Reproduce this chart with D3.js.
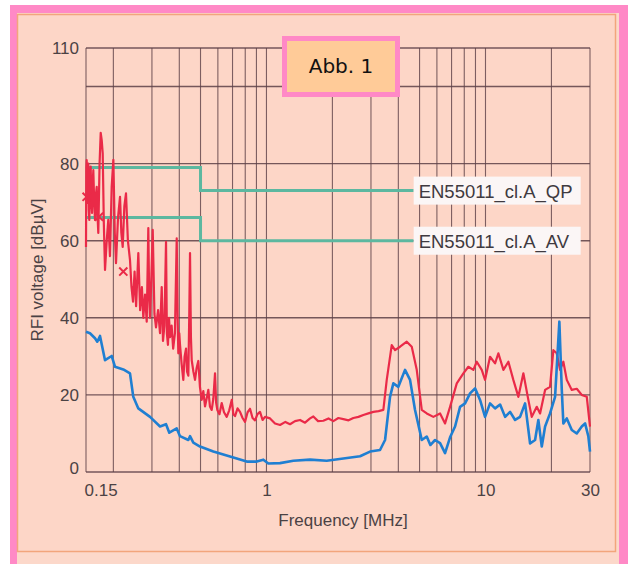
<!DOCTYPE html>
<html>
<head>
<meta charset="utf-8">
<script src="https://cdn.jsdelivr.net/npm/d3@7"></script>
<style>
  body { margin: 0; background: #fff; }
  svg { display: block; font-family: "Liberation Sans", Arial, sans-serif; }
</style>
</head>
<body>
<svg width="628" height="564"></svg>
<script>
// measured QP curve (red), frequency in MHz, level in dBuV
var qpFreq = [0.150, 0.1505, 0.1511, 0.1519, 0.1527, 0.1532, 0.1537, 0.1545, 0.1553, 0.1565,
  0.1576, 0.1587, 0.1598, 0.1610, 0.1620, 0.1635, 0.1649, 0.1665, 0.1679, 0.1695,
  0.1707, 0.1730, 0.1751, 0.1770, 0.1788, 0.1810, 0.1832, 0.1865, 0.1896, 0.1930,
  0.1965, 0.200, 0.2030, 0.2056, 0.2100, 0.2145, 0.2175, 0.2206, 0.2245, 0.2284,
  0.2330, 0.2382, 0.2420, 0.2459, 0.2500, 0.2540, 0.2600, 0.2650, 0.2700, 0.2740,
  0.2790, 0.2840, 0.2888, 0.2915, 0.2940, 0.2980, 0.3025, 0.3080, 0.3131, 0.3200,
  0.3266, 0.3325, 0.3370, 0.3420, 0.3479, 0.3510, 0.3550, 0.3590, 0.3628, 0.3690,
  0.3750, 0.3820, 0.3893, 0.3930, 0.3959, 0.4000, 0.4030, 0.4100, 0.4172, 0.4230,
  0.4293, 0.4340, 0.4398, 0.4440, 0.4477, 0.4520, 0.4558, 0.4640, 0.4719, 0.4800,
  0.4885, 0.4970, 0.5063, 0.5150, 0.5242, 0.5330, 0.5427, 0.5520, 0.5624, 0.5720,
  0.5823, 0.5890, 0.5966, 0.6100, 0.6248, 0.6400, 0.6585, 0.6760, 0.6941, 0.7060,
  0.7186, 0.7380, 0.7574, 0.7780, 0.7982, 0.8200, 0.8413, 0.8640, 0.8868, 0.9100,
  0.9346, 0.9600, 0.9851, 1.0383, 1.0942, 1.1533, 1.2200, 1.2812, 1.3500, 1.4232,
  1.500, 1.581, 1.637, 1.720, 1.818, 1.920, 2.020, 2.130, 2.244, 2.370,
  2.493, 2.630, 2.769, 2.920, 3.076, 3.250, 3.417, 3.541, 3.732, 3.864,
  4.073, 4.370, 4.606, 4.854, 5.117, 5.393, 5.780, 6.203, 6.537, 6.890,
  7.393, 7.925, 8.352, 8.802, 9.123, 9.615, 9.955, 10.49, 11.06, 11.45,
  12.07, 12.72, 13.40, 14.13, 14.89, 15.69, 16.26, 17.14, 17.75, 18.71,
  19.71, 20.41, 21.15, 21.90, 22.67, 23.50, 24.77, 26.10, 27.51, 29.00, 30];
var qpLevel = [58.4, 79.0, 80.9, 70.0, 69.8, 78.0, 80.0, 68.0, 65.4, 76.0,
  79.2, 70.0, 67.2, 75.0, 78.3, 70.0, 65.4, 72.0, 74.0, 66.0,
  62.0, 80.0, 88.0, 86.0, 82.7, 64.0, 52.4, 60.0, 65.4, 56.0,
  74.0, 81.0, 62.0, 54.2, 66.0, 71.4, 62.0, 58.4, 69.0, 72.3,
  60.0, 55.0, 48.0, 44.2, 52.0, 43.0, 56.8, 42.0, 48.0, 40.0,
  46.0, 39.0, 63.3, 45.0, 40.0, 50.0, 62.8, 41.0, 37.5, 42.0,
  36.0, 48.0, 34.0, 38.0, 59.7, 36.0, 33.0, 40.0, 35.0, 38.0,
  32.0, 36.0, 60.6, 40.0, 30.8, 36.0, 33.0, 28.0, 23.9, 30.0,
  32.0, 26.0, 25.0, 40.0, 56.8, 35.0, 29.0, 26.0, 23.9, 27.0,
  28.8, 22.0, 18.7, 21.0, 17.0, 19.0, 21.3, 17.0, 16.1, 19.0,
  25.6, 18.0, 16.1, 15.0, 17.9, 15.5, 14.3, 16.0, 18.7, 15.0,
  14.5, 16.5, 15.6, 14.0, 13.0, 15.5, 16.4, 14.0, 13.4, 15.0,
  15.6, 13.5, 14.3, 13.9, 12.6, 12.2, 13.0, 12.4, 13.2, 13.5,
  12.8, 13.9, 14.4, 13.2, 13.3, 13.9, 13.2, 14.0, 13.7, 13.4,
  14.0, 14.3, 14.8, 15.2, 15.6, 15.8, 16.1, 23.9, 32.9, 31.6,
  32.5, 33.8, 32.5, 26.5, 16.1, 15.2, 14.3, 15.2, 12.6, 16.9,
  23.0, 25.6, 27.3, 26.5, 28.6, 26.5, 23.9, 29.9, 28.2, 30.8,
  26.5, 28.6, 23.9, 19.5, 25.6, 18.7, 14.3, 16.9, 15.2, 21.3,
  22.1, 31.6, 30.8, 26.5, 28.6, 23.9, 21.3, 21.6, 20.0, 19.5, 11.8];

// measured AV curve (blue)
var avFreq = [0.150, 0.1564, 0.1649, 0.1689, 0.1738, 0.1832, 0.1965, 0.2035, 0.2220, 0.2382,
  0.2466, 0.2600, 0.2940, 0.3266, 0.3479, 0.3601, 0.3893, 0.4030, 0.4398, 0.4477,
  0.4635, 0.4973, 0.5720, 0.6818, 0.8126, 0.9026, 0.9675, 1.0199, 1.1533, 1.3264,
  1.581, 1.884, 2.244, 2.675, 2.971, 3.300, 3.479, 3.666, 3.796, 4.001,
  4.292, 4.524, 4.768, 5.117, 5.393, 5.600, 5.885, 6.203, 6.537, 6.890,
  7.262, 7.654, 8.067, 8.503, 8.961, 9.444, 9.955, 10.49, 11.06, 11.66,
  12.29, 12.95, 13.65, 14.38, 15.16, 15.98, 16.84, 17.43, 18.07, 18.71,
  19.71, 20.78, 21.74, 22.30, 22.67, 23.50, 24.77, 26.10, 27.51, 28.49, 29.49, 30];
var avLevel = [36.4, 36.0, 34.7, 33.8, 35.3, 29.0, 30.1, 27.3, 26.6, 25.6,
  19.5, 16.5, 14.3, 11.8, 12.4, 10.2, 11.3, 9.3, 8.3, 9.3,
  7.6, 6.6, 5.3, 4.0, 2.7, 2.7, 3.2, 2.2, 2.3, 2.9,
  3.2, 2.9, 3.5, 4.1, 5.3, 5.7, 8.3, 19.5, 23.0, 22.1,
  26.5, 23.9, 16.1, 8.3, 9.2, 7.0, 8.3, 7.5, 4.9, 9.0,
  11.8, 16.9, 17.8, 20.4, 21.7, 18.7, 14.3, 17.8, 16.5, 17.5,
  14.3, 15.6, 13.5, 14.3, 17.8, 7.4, 8.3, 13.5, 6.6, 11.8,
  15.2, 19.5, 39.0, 21.3, 12.6, 13.9, 10.9, 10.0, 11.8, 12.6, 9.2, 5.3];

// peak markers on the QP curve
var markFreq = [0.151, 0.172, 0.222];
var markLevel = [71.4, 66.2, 52.0];

// EN55011 class A limits
var limitFreq = [0.15, 0.5, 0.5, 4.7];
var limitQP = [79, 79, 73, 73];
var limitAV = [66, 66, 60, 60];
var limitNames = ["EN55011_cl.A_QP", "EN55011_cl.A_AV"];

var gridFreq = [0.15, 0.2, 0.3, 0.4, 0.5, 0.6, 0.7, 0.8, 0.9, 1, 2, 3, 4, 5, 6, 7, 8, 9, 10, 20, 30];
var gridLevel = [0, 20, 40, 60, 80, 100, 110];
var xTicks = [0.15, 1, 10, 30];
var yTicks = [0, 20, 40, 60, 80, 110];

var svg = d3.select("svg");

// frame
svg.append("rect").attr("x", 10).attr("y", 5).attr("width", 630).attr("height", 600).attr("fill", "#ff89c6");
svg.append("rect").attr("x", 17).attr("y", 13).attr("width", 602).attr("height", 560).attr("fill", "#fcd8ca");
svg.append("rect").attr("x", 17.5).attr("y", 14.5).attr("width", 598).attr("height", 537)
  .attr("fill", "#fdd6c7").attr("stroke", "#f2a57c").attr("stroke-width", 1.5);

var x = d3.scaleLog().domain([0.15, 30]).range([86, 590]);
var y = d3.scaleLinear().domain([0, 110]).range([472, 48]);

var gridColor = "#5e4148";

// grid
svg.append("g").selectAll("line").data(gridFreq).enter().append("line")
  .attr("x1", function (d) { return x(d); }).attr("x2", function (d) { return x(d); })
  .attr("y1", y(0)).attr("y2", y(110))
  .attr("stroke", gridColor).attr("stroke-width", 1.1).attr("opacity", 0.8);
svg.append("g").selectAll("line").data(gridLevel).enter().append("line")
  .attr("x1", x(0.15)).attr("x2", x(30))
  .attr("y1", function (d) { return y(d); }).attr("y2", function (d) { return y(d); })
  .attr("stroke", gridColor).attr("stroke-width", 1.4).attr("opacity", 0.85);

// tick labels
var xAxis = svg.append("g")
  .attr("transform", "translate(0," + y(0) + ")")
  .call(d3.axisBottom(x).tickValues(xTicks).tickSize(0).tickPadding(12)
    .tickFormat(function (d) { return String(d); }));
var yAxis = svg.append("g")
  .attr("transform", "translate(" + x(0.15) + ",0)")
  .call(d3.axisLeft(y).tickValues(yTicks).tickSize(0).tickPadding(7));
[xAxis, yAxis].forEach(function (a) {
  a.select(".domain").remove();
  a.selectAll("text").attr("fill", "#4b4244").style("font-size", "17px")
    .style("font-family", "'Liberation Sans', Arial, sans-serif");
});
xAxis.selectAll("text").filter(function (d) { return d === 0.15; })
  .attr("text-anchor", "start").attr("dx", -2);
yAxis.selectAll("text").filter(function (d) { return d === 0; }).attr("dy", "0.1em");

// axis titles
svg.append("text").attr("x", 343).attr("y", 526).attr("text-anchor", "middle")
  .attr("fill", "#4b4244").style("font-size", "17px").text("Frequency [MHz]");
svg.append("text").attr("text-anchor", "middle")
  .attr("transform", "translate(43,270)rotate(-90)")
  .attr("fill", "#4b4244").style("font-size", "17px").text("RFI voltage [dBµV]");

// limit lines
var limitLine = d3.line()
  .x(function (d) { return x(d[0]); })
  .y(function (d) { return y(d[1]); });
[limitQP, limitAV].forEach(function (lim) {
  svg.append("path")
    .datum(limitFreq.map(function (f, i) { return [f, lim[i]]; }))
    .attr("d", limitLine)
    .attr("fill", "none").attr("stroke", "#5cb8a0").attr("stroke-width", 3);
});

// measurement curves
var curve = d3.line()
  .x(function (d) { return x(d[0]); })
  .y(function (d) { return y(d[1]); });
svg.append("path")
  .datum(qpFreq.map(function (f, i) { return [f, qpLevel[i]]; }))
  .attr("d", curve)
  .attr("fill", "none").attr("stroke", "#ea2a48").attr("stroke-width", 2.2)
  .attr("stroke-linejoin", "round");
svg.append("g").selectAll("path").data(markFreq).enter().append("path")
  .attr("d", d3.symbol().type(d3.symbolX).size(45))
  .attr("transform", function (d, i) { return "translate(" + x(d) + "," + y(markLevel[i]) + ")"; })
  .attr("fill", "none").attr("stroke", "#ea2a48").attr("stroke-width", 2);
svg.append("path")
  .datum(avFreq.map(function (f, i) { return [f, avLevel[i]]; }))
  .attr("d", curve)
  .attr("fill", "none").attr("stroke", "#1f7fd2").attr("stroke-width", 2.6)
  .attr("stroke-linejoin", "round");

// limit labels
[limitQP, limitAV].forEach(function (lim, i) {
  var lx = x(limitFreq[3]), ly = y(lim[3]);
  svg.append("rect").attr("x", lx).attr("y", ly - 14).attr("width", 167).attr("height", 28)
    .attr("fill", "#fbf6f6");
  svg.append("text").attr("x", lx + 5).attr("y", ly + 7)
    .attr("fill", "#3f3a40").style("font-size", "18.5px").text(limitNames[i]);
});

// figure tag
svg.append("rect").attr("x", 284.5).attr("y", 38.5).attr("width", 113).attr("height", 56)
  .attr("fill", "#ffcb98").attr("stroke", "#ff89c6").attr("stroke-width", 5);
svg.append("text").attr("x", 341).attr("y", 73).attr("text-anchor", "middle")
  .attr("fill", "#111").style("font-size", "20px").style("font-family", "'DejaVu Sans', sans-serif")
  .text("Abb. 1");
</script>
</body>
</html>
